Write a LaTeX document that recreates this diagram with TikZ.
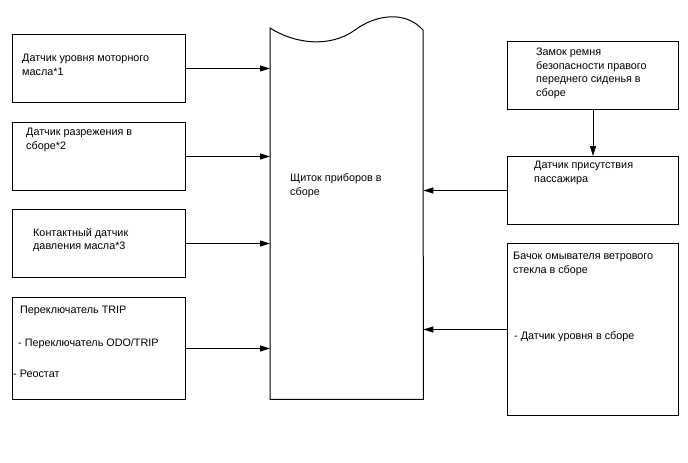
\documentclass[tikz,border=0pt]{standalone}
\usepackage{fontspec}
\setmainfont{Liberation Sans}
\usetikzlibrary{arrows.meta,calc}
\tikzset{
  unit/.style={draw, line width=1pt, rectangle, inner sep=0pt, minimum width=173pt},
  lunit/.style={unit, minimum width=173pt},
  runit/.style={unit, minimum width=171pt},
  txt/.style={anchor=north west, inner sep=0pt, align=left, yshift=9.52pt,
    font=\fontsize{10.8pt}{13.6pt}\selectfont, execute at begin node={\strut}},
  arr/.style={-{Triangle[length=10pt,width=6pt]}, line width=1pt},
}
\begin{document}
\begin{tikzpicture}[x=1pt,y=-1pt]
  \useasboundingbox (0,0) rectangle (688,463);
  % left column
  \node[lunit, minimum height=68pt, anchor=north west] (oil) at (12,34) {};
  \node[lunit, minimum height=68pt, anchor=north west] (vac) at (12,122) {};
  \node[lunit, minimum height=68pt, anchor=north west] (prs) at (12,209) {};
  \node[lunit, minimum height=102pt, anchor=north west] (trip) at (12,297) {};
  \node[txt] at (22,63.5) {Датчик уровня моторного\\масла*1};
  \node[txt] at (26,137.7) {Датчик разрежения в\\сборе*2};
  \node[txt] at (33,237.7) {Контактный датчик\\давления масла*3};
  \node[txt] at (20,313.3) {Переключатель TRIP};
  \node[txt] at (18,346.7) {- Переключатель ODO/TRIP};
  \node[txt] at (13,377) {- Реостат};
  % instrument panel
  \node[draw=none, inner sep=0pt, minimum width=153pt, minimum height=371pt,
    anchor=north west] (panel) at (270,28) {};
  \draw[line width=1pt] (panel.south west) -- (panel.north west)
    .. controls (295,44) and (330,48) .. (355,30)
    .. controls (375,15) and (405,10) .. (423,30)
    -- (panel.south east) -- cycle;
  \node[txt] at (290,183.3) {Щиток приборов в\\сборе};
  % right column
  \node[runit, minimum height=68pt, anchor=north west] (belt) at (507,41) {};
  \node[runit, minimum height=68pt, anchor=north west] (occ) at (507,156) {};
  \node[runit, minimum height=172pt, anchor=north west] (wash) at (507,243) {};
  \node[txt] at (536,57.3) {Замок ремня\\безопасности правого\\переднего сиденья в\\сборе};
  \node[txt] at (534,170.7) {Датчик присутствия\\пассажира};
  \node[txt] at (513,261.7) {Бачок омывателя ветрового\\стекла в сборе};
  \node[txt] at (514,339) {- Датчик уровня в сборе};
  % connections
  \foreach \n in {oil,vac,prs,trip}
    \draw[arr] (\n.east) -- (\n.east -| panel.west);
  \foreach \n in {occ,wash}
    \draw[arr] (\n.west) -- (\n.west -| panel.east);
  \draw[arr] (belt.south) -- (occ.north);
\end{tikzpicture}
\end{document}
